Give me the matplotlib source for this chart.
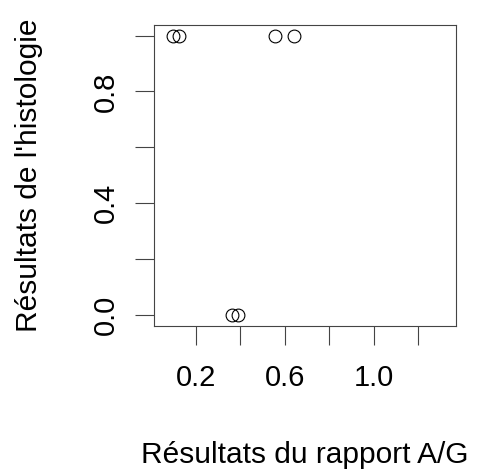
import matplotlib
matplotlib.use("Agg")
import matplotlib.pyplot as plt

# valeurs
rapport_ag = [0.099, 0.126, 0.556, 0.643, 0.362, 0.389]
histologie = [1, 1, 1, 1, 0, 0]

x_ticks = [0.2, 0.4, 0.6, 0.8, 1.0, 1.2]
x_labels = ["0.2", "", "0.6", "", "1.0", ""]
y_ticks = [0.0, 0.2, 0.4, 0.6, 0.8, 1.0]
y_labels = ["0.0", "", "0.4", "", "0.8", ""]


def main():
    plt.rcParams['font.family'] = ['Liberation Sans', 'DejaVu Sans']
    fig = plt.figure(figsize=(4.8, 4.72), dpi=100)
    ax = fig.add_axes([0.321, 0.31, 0.629, 0.638])

    ax.plot(rapport_ag, histologie, linestyle="none", marker="o",
            markersize=9.2, markerfacecolor="none", markeredgecolor="black",
            markeredgewidth=0.8)

    ax.set_xlim(0.013, 1.369)
    ax.set_ylim(-0.04, 1.04)
    ax.set_xticks(x_ticks)
    ax.set_xticklabels(x_labels)
    ax.set_yticks(y_ticks)
    ax.set_yticklabels(y_labels, rotation=90, va="center")

    ax.tick_params(axis="both", length=13.5, width=0.8, color="#444444",
                   labelsize=21)
    ax.tick_params(axis="x", pad=14)
    ax.tick_params(axis="y", pad=11)
    for s in ax.spines.values():
        s.set_linewidth(0.8)
        s.set_color("#444444")

    ax.set_xlabel("Résultats du rapport A/G", fontsize=21.5)
    ax.set_ylabel("Résultats de l'histologie", fontsize=21.5)
    ax.xaxis.set_label_coords(0.5, -0.383)
    ax.yaxis.set_label_coords(-0.367, 0.5)

    fig.savefig("out.png", dpi=100)


if __name__ == '__main__':
    main()
